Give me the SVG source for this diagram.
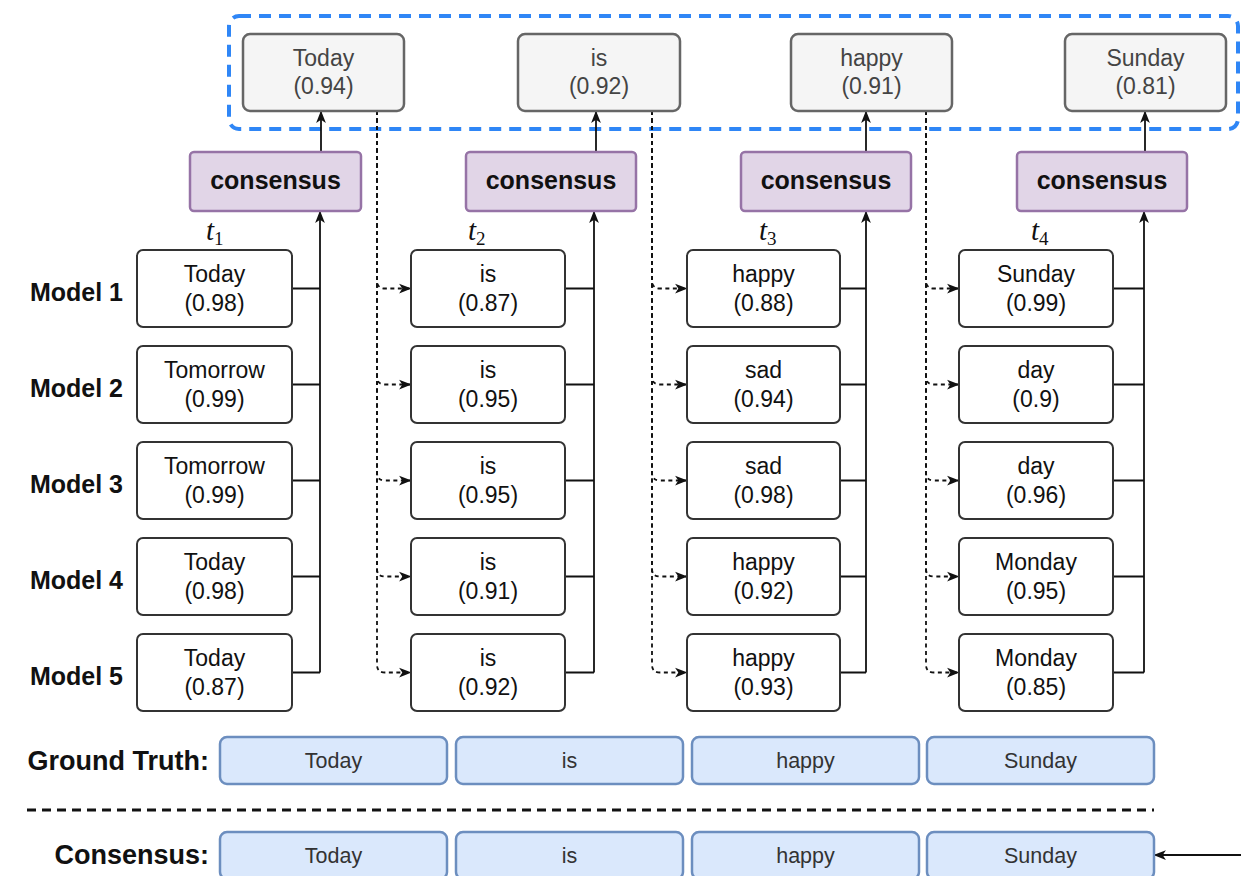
<svg xmlns="http://www.w3.org/2000/svg" width="1241" height="876" viewBox="0 0 1241 876">
  <defs>
    <style>
      .bg { fill: #ffffff; }
      .model { fill: #ffffff; stroke: #333333; stroke-width: 2; }
      .out { fill: #f5f5f5; stroke: #666666; stroke-width: 2.5; }
      .cons { fill: #e1d5e7; stroke: #9673a6; stroke-width: 2.5; }
      .row { fill: #dae8fc; stroke: #6c8ebf; stroke-width: 2.5; }
      .t-model { font-family: "Liberation Sans", Arial, sans-serif; font-size: 23px; fill: #111111; text-anchor: middle; }
      .t-out { font-family: "Liberation Sans", Arial, sans-serif; font-size: 23px; fill: #444444; text-anchor: middle; }
      .t-cons { font-family: "Liberation Sans", Arial, sans-serif; font-size: 25px; font-weight: bold; fill: #111111; text-anchor: middle; }
      .t-row { font-family: "Liberation Sans", Arial, sans-serif; font-size: 21.5px; fill: #333333; text-anchor: middle; }
      .t-label { font-family: "Liberation Sans", Arial, sans-serif; font-size: 25px; font-weight: bold; fill: #111111; text-anchor: end; }
      .t-big { font-family: "Liberation Sans", Arial, sans-serif; font-size: 27px; font-weight: bold; fill: #111111; text-anchor: end; }
      .t-math { font-family: "Liberation Serif", "Times New Roman", serif; font-size: 29px; font-style: italic; fill: #111111; }
      .t-sub { font-family: "Liberation Serif", "Times New Roman", serif; font-size: 19px; font-style: normal; }
      .solid { fill: none; stroke: #111111; stroke-width: 1.8; }
      .dashed { fill: none; stroke: #111111; stroke-width: 1.8; stroke-dasharray: 4 3.5; }
      .group-box { fill: none; stroke: #2f86f6; stroke-width: 4; stroke-dasharray: 12 8; }
      .divider { fill: none; stroke: #111111; stroke-width: 3; stroke-dasharray: 9 6; }
    </style>
    <marker id="arrow" viewBox="0 0 12 10" refX="11" refY="5" markerWidth="13" markerHeight="11" orient="auto" markerUnits="userSpaceOnUse">
      <path d="M0,0.5 L11.5,5 L0,9.5 L3,5 z" fill="#111111"/>
    </marker>
    <marker id="arrow-s" viewBox="0 0 12 10" refX="11" refY="5" markerWidth="13" markerHeight="11" orient="auto" markerUnits="userSpaceOnUse">
      <path d="M0,0.5 L11.5,5 L0,9.5 L3,5 z" fill="#111111"/>
    </marker>
  </defs>

  <rect class="bg" x="0" y="0" width="1241" height="876"/>

  <!-- selection frame around the consensus outputs -->
  <rect class="group-box" x="229" y="16" width="1009" height="113" rx="10" ry="10"/>

  <!-- connectors -->
  <g id="connectors">
    <!-- column 1: model branches into the consensus bus -->
    <path class="solid" d="M292,288.5 H320 M292,384.5 H320 M292,480.5 H320 M292,576.5 H320 M292,672.5 H320"/>
    <path class="solid" d="M320,672.5 V211" marker-end="url(#arrow)"/>
    <path class="solid" d="M321,152 V111" marker-end="url(#arrow)"/>
    <!-- column 2 -->
    <path class="solid" d="M565,288.5 H594 M565,384.5 H594 M565,480.5 H594 M565,576.5 H594 M565,672.5 H594"/>
    <path class="solid" d="M594,672.5 V211" marker-end="url(#arrow)"/>
    <path class="solid" d="M596,152 V111" marker-end="url(#arrow)"/>
    <!-- column 3 -->
    <path class="solid" d="M840,288.5 H866 M840,384.5 H866 M840,480.5 H866 M840,576.5 H866 M840,672.5 H866"/>
    <path class="solid" d="M866,672.5 V211" marker-end="url(#arrow)"/>
    <path class="solid" d="M866,152 V111" marker-end="url(#arrow)"/>
    <!-- column 4 -->
    <path class="solid" d="M1113,288.5 H1144 M1113,384.5 H1144 M1113,480.5 H1144 M1113,576.5 H1144 M1113,672.5 H1144"/>
    <path class="solid" d="M1144,672.5 V211" marker-end="url(#arrow)"/>
    <path class="solid" d="M1145,152 V111" marker-end="url(#arrow)"/>

    <!-- previous output feeds every model at the next step -->
    <path class="dashed" d="M377,111 V280.5 Q377,288.5 385,288.5 H411" marker-end="url(#arrow-s)"/>
    <path class="dashed" d="M377,111 V376.5 Q377,384.5 385,384.5 H411" marker-end="url(#arrow-s)"/>
    <path class="dashed" d="M377,111 V472.5 Q377,480.5 385,480.5 H411" marker-end="url(#arrow-s)"/>
    <path class="dashed" d="M377,111 V568.5 Q377,576.5 385,576.5 H411" marker-end="url(#arrow-s)"/>
    <path class="dashed" d="M377,111 V664.5 Q377,672.5 385,672.5 H411" marker-end="url(#arrow-s)"/>

    <path class="dashed" d="M652,111 V280.5 Q652,288.5 660,288.5 H687" marker-end="url(#arrow-s)"/>
    <path class="dashed" d="M652,111 V376.5 Q652,384.5 660,384.5 H687" marker-end="url(#arrow-s)"/>
    <path class="dashed" d="M652,111 V472.5 Q652,480.5 660,480.5 H687" marker-end="url(#arrow-s)"/>
    <path class="dashed" d="M652,111 V568.5 Q652,576.5 660,576.5 H687" marker-end="url(#arrow-s)"/>
    <path class="dashed" d="M652,111 V664.5 Q652,672.5 660,672.5 H687" marker-end="url(#arrow-s)"/>

    <path class="dashed" d="M926,111 V280.5 Q926,288.5 934,288.5 H959" marker-end="url(#arrow-s)"/>
    <path class="dashed" d="M926,111 V376.5 Q926,384.5 934,384.5 H959" marker-end="url(#arrow-s)"/>
    <path class="dashed" d="M926,111 V472.5 Q926,480.5 934,480.5 H959" marker-end="url(#arrow-s)"/>
    <path class="dashed" d="M926,111 V568.5 Q926,576.5 934,576.5 H959" marker-end="url(#arrow-s)"/>
    <path class="dashed" d="M926,111 V664.5 Q926,672.5 934,672.5 H959" marker-end="url(#arrow-s)"/>

    <!-- incoming arrow to the consensus row -->
    <path class="solid" d="M1241,855 H1154" marker-end="url(#arrow)"/>
  </g>

  <!-- output tokens -->
  <g id="out-1"><rect class="out" x="243" y="34" width="161" height="77" rx="7"/><text class="t-out" x="323.5" y="66">Today</text><text class="t-out" x="323.5" y="94">(0.94)</text></g>
  <g id="out-2"><rect class="out" x="518" y="34" width="162" height="77" rx="7"/><text class="t-out" x="599" y="66">is</text><text class="t-out" x="599" y="94">(0.92)</text></g>
  <g id="out-3"><rect class="out" x="791" y="34" width="161" height="77" rx="7"/><text class="t-out" x="871.5" y="66">happy</text><text class="t-out" x="871.5" y="94">(0.91)</text></g>
  <g id="out-4"><rect class="out" x="1065" y="34" width="161" height="77" rx="7"/><text class="t-out" x="1145.5" y="66">Sunday</text><text class="t-out" x="1145.5" y="94">(0.81)</text></g>

  <!-- consensus steps -->
  <g id="cons-1"><rect class="cons" x="190" y="152" width="171" height="59" rx="4"/><text class="t-cons" x="275.5" y="189">consensus</text></g>
  <g id="cons-2"><rect class="cons" x="466" y="152" width="170" height="59" rx="4"/><text class="t-cons" x="551" y="189">consensus</text></g>
  <g id="cons-3"><rect class="cons" x="741" y="152" width="170" height="59" rx="4"/><text class="t-cons" x="826" y="189">consensus</text></g>
  <g id="cons-4"><rect class="cons" x="1017" y="152" width="170" height="59" rx="4"/><text class="t-cons" x="1102" y="189">consensus</text></g>

  <!-- time steps -->
  <text class="t-math" x="206" y="240">t<tspan class="t-sub" dy="5">1</tspan></text>
  <text class="t-math" x="468" y="240">t<tspan class="t-sub" dy="5">2</tspan></text>
  <text class="t-math" x="759" y="240">t<tspan class="t-sub" dy="5">3</tspan></text>
  <text class="t-math" x="1031" y="240">t<tspan class="t-sub" dy="5">4</tspan></text>

  <!-- model labels -->
  <g id="model-labels">
    <text class="t-label" x="123" y="301">Model 1</text>
    <text class="t-label" x="123" y="397">Model 2</text>
    <text class="t-label" x="123" y="493">Model 3</text>
    <text class="t-label" x="123" y="589">Model 4</text>
    <text class="t-label" x="123" y="685">Model 5</text>
  </g>

  <!-- column 1 predictions -->
  <g id="m1-t1"><rect class="model" x="137" y="250" width="155" height="77" rx="6"/><text class="t-model" x="214.5" y="282">Today</text><text class="t-model" x="214.5" y="311">(0.98)</text></g>
  <g id="m2-t1"><rect class="model" x="137" y="346" width="155" height="77" rx="6"/><text class="t-model" x="214.5" y="378">Tomorrow</text><text class="t-model" x="214.5" y="407">(0.99)</text></g>
  <g id="m3-t1"><rect class="model" x="137" y="442" width="155" height="77" rx="6"/><text class="t-model" x="214.5" y="474">Tomorrow</text><text class="t-model" x="214.5" y="503">(0.99)</text></g>
  <g id="m4-t1"><rect class="model" x="137" y="538" width="155" height="77" rx="6"/><text class="t-model" x="214.5" y="570">Today</text><text class="t-model" x="214.5" y="599">(0.98)</text></g>
  <g id="m5-t1"><rect class="model" x="137" y="634" width="155" height="77" rx="6"/><text class="t-model" x="214.5" y="666">Today</text><text class="t-model" x="214.5" y="695">(0.87)</text></g>

  <!-- column 2 predictions -->
  <g id="m1-t2"><rect class="model" x="411" y="250" width="154" height="77" rx="6"/><text class="t-model" x="488" y="282">is</text><text class="t-model" x="488" y="311">(0.87)</text></g>
  <g id="m2-t2"><rect class="model" x="411" y="346" width="154" height="77" rx="6"/><text class="t-model" x="488" y="378">is</text><text class="t-model" x="488" y="407">(0.95)</text></g>
  <g id="m3-t2"><rect class="model" x="411" y="442" width="154" height="77" rx="6"/><text class="t-model" x="488" y="474">is</text><text class="t-model" x="488" y="503">(0.95)</text></g>
  <g id="m4-t2"><rect class="model" x="411" y="538" width="154" height="77" rx="6"/><text class="t-model" x="488" y="570">is</text><text class="t-model" x="488" y="599">(0.91)</text></g>
  <g id="m5-t2"><rect class="model" x="411" y="634" width="154" height="77" rx="6"/><text class="t-model" x="488" y="666">is</text><text class="t-model" x="488" y="695">(0.92)</text></g>

  <!-- column 3 predictions -->
  <g id="m1-t3"><rect class="model" x="687" y="250" width="153" height="77" rx="6"/><text class="t-model" x="763.5" y="282">happy</text><text class="t-model" x="763.5" y="311">(0.88)</text></g>
  <g id="m2-t3"><rect class="model" x="687" y="346" width="153" height="77" rx="6"/><text class="t-model" x="763.5" y="378">sad</text><text class="t-model" x="763.5" y="407">(0.94)</text></g>
  <g id="m3-t3"><rect class="model" x="687" y="442" width="153" height="77" rx="6"/><text class="t-model" x="763.5" y="474">sad</text><text class="t-model" x="763.5" y="503">(0.98)</text></g>
  <g id="m4-t3"><rect class="model" x="687" y="538" width="153" height="77" rx="6"/><text class="t-model" x="763.5" y="570">happy</text><text class="t-model" x="763.5" y="599">(0.92)</text></g>
  <g id="m5-t3"><rect class="model" x="687" y="634" width="153" height="77" rx="6"/><text class="t-model" x="763.5" y="666">happy</text><text class="t-model" x="763.5" y="695">(0.93)</text></g>

  <!-- column 4 predictions -->
  <g id="m1-t4"><rect class="model" x="959" y="250" width="154" height="77" rx="6"/><text class="t-model" x="1036" y="282">Sunday</text><text class="t-model" x="1036" y="311">(0.99)</text></g>
  <g id="m2-t4"><rect class="model" x="959" y="346" width="154" height="77" rx="6"/><text class="t-model" x="1036" y="378">day</text><text class="t-model" x="1036" y="407">(0.9)</text></g>
  <g id="m3-t4"><rect class="model" x="959" y="442" width="154" height="77" rx="6"/><text class="t-model" x="1036" y="474">day</text><text class="t-model" x="1036" y="503">(0.96)</text></g>
  <g id="m4-t4"><rect class="model" x="959" y="538" width="154" height="77" rx="6"/><text class="t-model" x="1036" y="570">Monday</text><text class="t-model" x="1036" y="599">(0.95)</text></g>
  <g id="m5-t4"><rect class="model" x="959" y="634" width="154" height="77" rx="6"/><text class="t-model" x="1036" y="666">Monday</text><text class="t-model" x="1036" y="695">(0.85)</text></g>

  <!-- ground truth row -->
  <g id="ground-truth">
    <text class="t-big" x="209" y="770">Ground Truth:</text>
    <rect class="row" x="220" y="737" width="227" height="47" rx="7"/><text class="t-row" x="333.5" y="768">Today</text>
    <rect class="row" x="456" y="737" width="227" height="47" rx="7"/><text class="t-row" x="569.5" y="768">is</text>
    <rect class="row" x="692" y="737" width="227" height="47" rx="7"/><text class="t-row" x="805.5" y="768">happy</text>
    <rect class="row" x="927" y="737" width="227" height="47" rx="7"/><text class="t-row" x="1040.5" y="768">Sunday</text>
  </g>

  <line class="divider" x1="27" y1="810" x2="1154" y2="810"/>

  <!-- consensus result row -->
  <g id="consensus-result">
    <text class="t-big" x="209" y="864">Consensus:</text>
    <rect class="row" x="220" y="832" width="227" height="47" rx="7"/><text class="t-row" x="333.5" y="863">Today</text>
    <rect class="row" x="456" y="832" width="227" height="47" rx="7"/><text class="t-row" x="569.5" y="863">is</text>
    <rect class="row" x="692" y="832" width="227" height="47" rx="7"/><text class="t-row" x="805.5" y="863">happy</text>
    <rect class="row" x="927" y="832" width="227" height="47" rx="7"/><text class="t-row" x="1040.5" y="863">Sunday</text>
  </g>
</svg>
